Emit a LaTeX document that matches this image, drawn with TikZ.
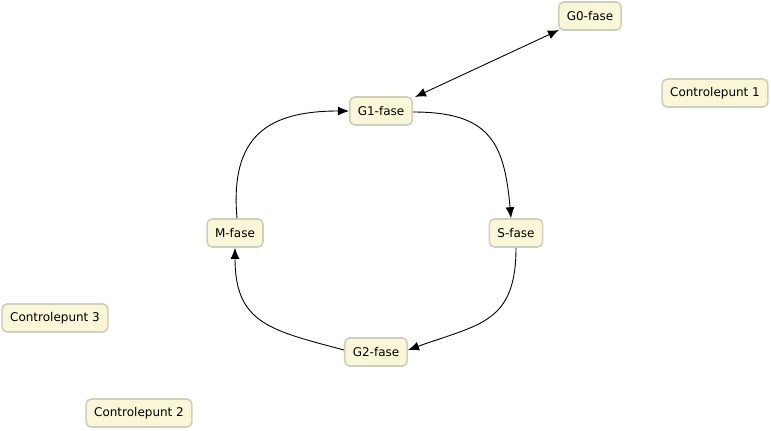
\documentclass[tikz,border=0pt]{standalone}
\usepackage{fontspec}
\setmainfont{DejaVu Sans}
\usetikzlibrary{arrows.meta}
\definecolor{boxfill}{HTML}{F9F7D8}
\definecolor{boxline}{HTML}{CFCFBE}
\begin{document}
\begin{tikzpicture}[x=1pt,y=-1pt,
  phase/.style={draw=boxline,fill=boxfill,line width=1.6pt,rounded corners=5pt,
    minimum height=28pt,inner xsep=8pt,inner ysep=0pt,font=\fontsize{12}{14}\selectfont},
  conn/.style={line width=0.9pt,-{Latex[length=11pt,width=9pt]}}]
\useasboundingbox (0,0) rectangle (771,431);
\node[phase] (g0) at (590,16) {G0-fase};
\node[phase] (g1) at (381,111) {G1-fase};
\node[phase] (c1) at (715,93) {Controlepunt 1};
\node[phase] (s) at (516,233) {S-fase};
\node[phase] (m) at (235,233) {M-fase};
\node[phase] (c3) at (55,318) {Controlepunt 3};
\node[phase] (g2) at (376,352) {G2-fase};
\node[phase] (c2) at (139,413) {Controlepunt 2};
\coordinate (a) at (415,97);
\coordinate (b) at (559,30);
\draw[line width=0.9pt,{Latex[length=11pt,width=9pt]}-{Latex[length=11pt,width=9pt]}] (a) -- (b);
\draw[conn] ([yshift=-1pt]g1.east) to[out=0,in=95,looseness=1.35] ([xshift=-5pt]s.north);
\draw[conn] (s.south) to[out=-90,in=20,looseness=1.3] ([yshift=2pt]g2.east);
\draw[conn] ([yshift=2pt]g2.west) to[out=165,in=-90,looseness=1.3] (m.south);
\draw[conn] ([xshift=2pt]m.north) to[out=95,in=180,looseness=1.35] (g1.west);
\end{tikzpicture}
\end{document}
